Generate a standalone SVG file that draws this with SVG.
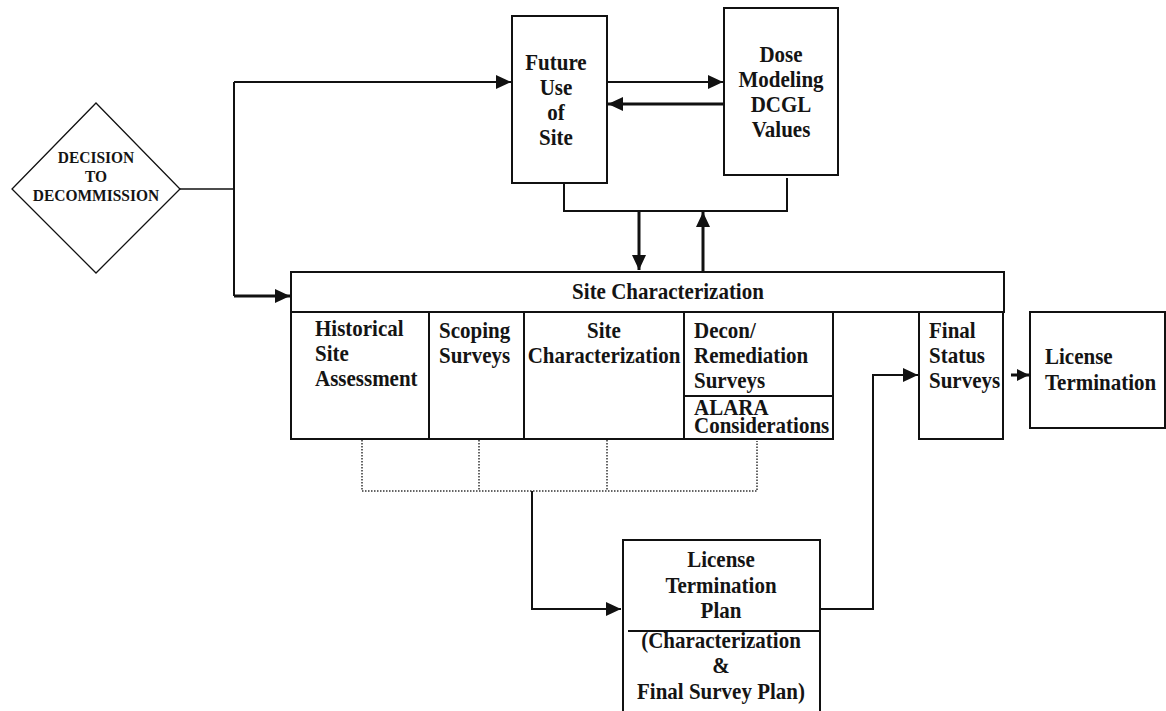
<svg xmlns="http://www.w3.org/2000/svg" width="1166" height="711" viewBox="0 0 1166 711">
<style>
.box{fill:#fff;stroke:#111;stroke-width:2}
text{font-family:'Liberation Serif','Times New Roman','DejaVu Serif',serif;font-weight:bold;font-size:21px;fill:#141414;transform-box:fill-box;transform-origin:50% 70%;transform:scaleY(1.12)}
.c{text-anchor:middle}
.d{font-size:15.5px}
.ln{fill:none;stroke:#111;stroke-width:2}
.thick{stroke-width:3}
.dot{fill:none;stroke:#333;stroke-width:1.5;stroke-dasharray:1.5 1.5}
</style>
<defs>
<marker id="ah" viewBox="0 0 15 14" markerWidth="15" markerHeight="14" refX="15" refY="7" orient="auto" markerUnits="userSpaceOnUse">
<path d="M0,0 L15,7 L0,14 z" fill="#111"/>
</marker>
<marker id="ahs" viewBox="0 0 12 12" markerWidth="12" markerHeight="12" refX="12" refY="6" orient="auto" markerUnits="userSpaceOnUse">
<path d="M0,0 L12,6 L0,12 z" fill="#111"/>
</marker>
</defs>
<rect width="1166" height="711" fill="#fff"/>
<g id="connectors">
<path class="ln" style="stroke-width:1.5" d="M180,189 H234"/>
<path class="ln" d="M234,82 V296"/>
<path class="ln" d="M234,82 H511" marker-end="url(#ah)"/>
<path class="ln thick" d="M234,296 H290" marker-end="url(#ah)"/>
<path class="ln" d="M607,82 H723" marker-end="url(#ah)"/>
<path class="ln thick" d="M724,104 H608" marker-end="url(#ah)"/>
<path class="ln" d="M564,183 V211 H787 V178"/>
<path class="ln thick" d="M639,211 V270" marker-end="url(#ah)"/>
<path class="ln thick" d="M703,271 V212" marker-end="url(#ah)"/>
<path class="ln thick" d="M1011,375 H1029" marker-end="url(#ahs)"/>
<path class="dot" d="M362,440 V491 H757 V441"/>
<path class="dot" d="M479,440 V491"/>
<path class="dot" d="M607,440 V491"/>
<path class="ln" d="M532,491 V609 H621" marker-end="url(#ah)"/>
<path class="ln" d="M820,609 H873 V375 H918" marker-end="url(#ah)"/>
</g>
<g id="decision">
<polygon points="96,103 180,189 96,273 12,189" fill="#fff" stroke="#111" stroke-width="1.3"/>
<text class="c d" x="96" y="162.5">DECISION</text>
<text class="c d" x="96" y="181.5">TO</text>
<text class="c d" x="96" y="200.5">DECOMMISSION</text>
</g>
<g id="future-use">
<rect class="box" x="512" y="16" width="95" height="167"/>
<text class="c" x="556" y="70">Future</text>
<text class="c" x="556" y="95">Use</text>
<text class="c" x="556" y="120">of</text>
<text class="c" x="556" y="145">Site</text>
</g>
<g id="dose-modeling">
<rect class="box" x="724" y="8" width="114" height="167"/>
<text class="c" x="781" y="62">Dose</text>
<text class="c" x="781" y="87">Modeling</text>
<text class="c" x="781" y="112">DCGL</text>
<text class="c" x="781" y="137">Values</text>
</g>
<g id="site-characterization">
<rect class="box" x="291" y="272" width="713" height="40"/>
<text class="c" x="668" y="299">Site Characterization</text>
<rect class="box" x="291" y="312" width="542" height="127"/>
<line class="ln" x1="429" y1="312" x2="429" y2="439"/>
<line class="ln" x1="524" y1="312" x2="524" y2="439"/>
<line class="ln" x1="684" y1="312" x2="684" y2="439"/>
<line class="ln" x1="684" y1="396" x2="833" y2="396"/>
</g>
<g id="historical">
<text x="315" y="336">Historical</text>
<text x="315" y="361">Site</text>
<text x="315" y="386">Assessment</text>
</g>
<g id="scoping">
<text x="439" y="338">Scoping</text>
<text x="439" y="363">Surveys</text>
</g>
<g id="site-char-sub">
<text class="c" x="604" y="338">Site</text>
<text class="c" x="604" y="363">Characterization</text>
</g>
<g id="decon">
<text x="694" y="338">Decon/</text>
<text x="694" y="363">Remediation</text>
<text x="694" y="388">Surveys</text>
<text x="694" y="415">ALARA</text>
<text x="694" y="433">Considerations</text>
</g>
<g id="final-status">
<rect class="box" x="919" y="312" width="84" height="127"/>
<text x="929" y="338">Final</text>
<text x="929" y="363">Status</text>
<text x="929" y="388">Surveys</text>
</g>
<g id="license-termination">
<rect class="box" x="1030" y="312" width="135" height="116"/>
<text x="1045" y="364">License</text>
<text x="1045" y="390">Termination</text>
</g>
<g id="ltp">
<rect class="box" x="623" y="540" width="197" height="190"/>
<line class="ln" x1="628" y1="631" x2="820" y2="631"/>
<text class="c" x="721" y="567">License</text>
<text class="c" x="721" y="593">Termination</text>
<text class="c" x="721" y="618">Plan</text>
<text class="c" x="721" y="648">(Characterization</text>
<text class="c" x="721" y="673">&amp;</text>
<text class="c" x="721" y="699">Final Survey Plan)</text>
</g>
</svg>
